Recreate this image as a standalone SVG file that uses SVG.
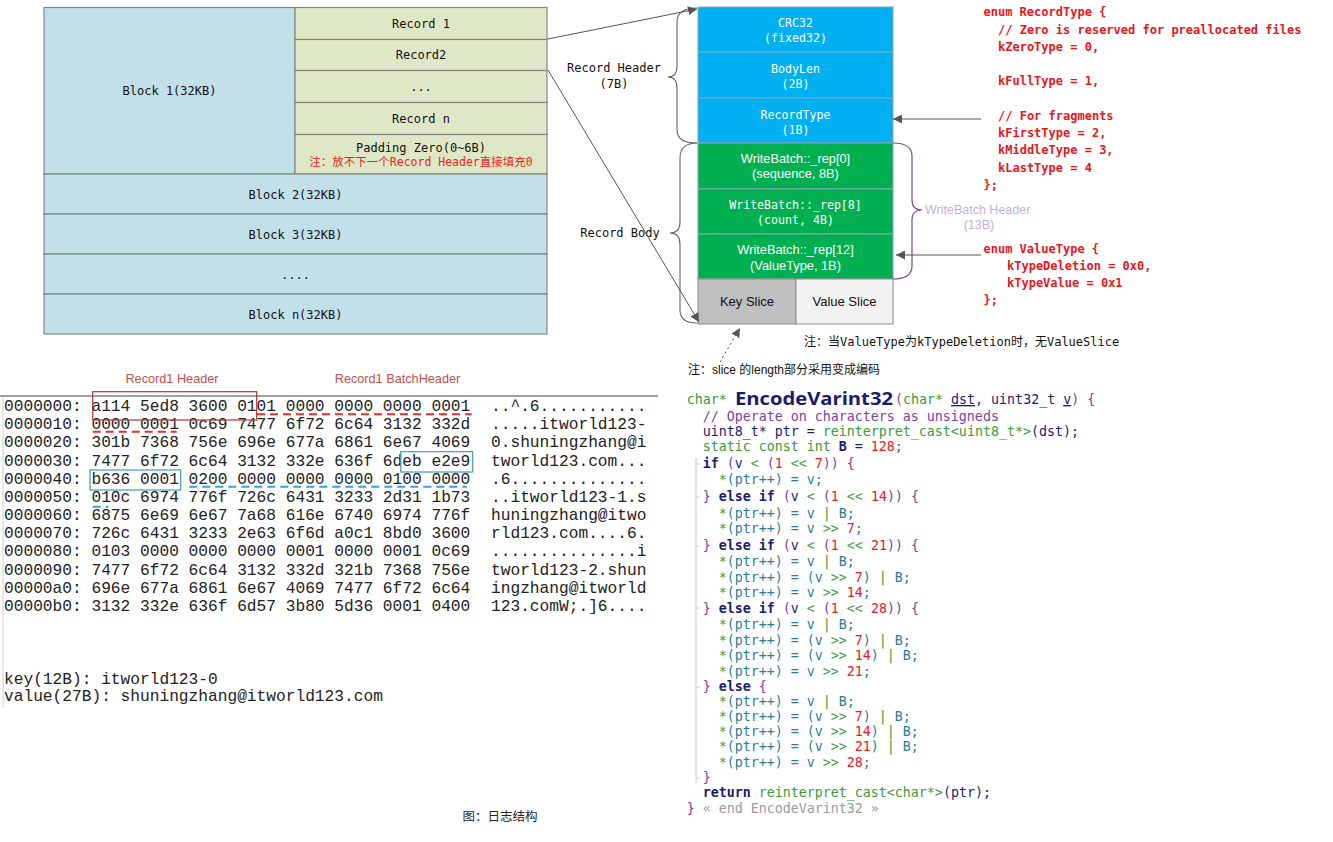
<svg xmlns="http://www.w3.org/2000/svg" width="1333" height="842" viewBox="0 0 1333 842">
<defs>
<marker id="ah" viewBox="0 0 10 10" refX="10" refY="5" markerWidth="9" markerHeight="9" markerUnits="userSpaceOnUse" orient="auto"><path d="M0,0 L10,5 L0,10 z" fill="#555"/></marker>
</defs>
<style>
.mono{font-family:"DejaVu Sans Mono","Liberation Mono","Noto Sans CJK SC",monospace;}
.sans{font-family:"Liberation Sans",Arial,"Noto Sans CJK SC",sans-serif;}
.cour{font-family:"Liberation Mono","Courier New",monospace;font-size:16.2px;fill:#222;}
.blk{fill:#C1E0E9;stroke:#858585;stroke-width:1.2;}
.rec{fill:#DFE8C6;stroke:#858585;stroke-width:1.2;}
.bt{font-size:12px;fill:#111;text-anchor:middle;}
.cb{fill:#00B0F0;stroke:#8AA6B8;stroke-width:1;}
.cg{fill:#00B050;stroke:#8AA6B8;stroke-width:1;}
.ct{fill:#fff;text-anchor:middle;}
.enum{font-family:"DejaVu Sans Mono","Liberation Mono",monospace;font-size:12px;font-weight:bold;fill:#E8151B;}
.brace{fill:none;stroke:#666;stroke-width:1.1;}
.conn{fill:none;stroke:#555;stroke-width:1;}
.code{font-family:"DejaVu Sans Mono","Liberation Mono",monospace;font-size:13.3px;}
.g{fill:#3A9B3A;}
.n{fill:#1C1C6E;}
.b{font-weight:bold;}
.p{fill:#8A3A9A;}
.r{fill:#E3201E;}
.c{fill:#2C7D92;}
.cm{fill:#7F3FA0;}
.gr{fill:#9A9A9A;}
</style>
<rect width="1333" height="842" fill="#fff"/>

<g id="block-table" class="mono">
  <g id="block1"><rect x="44" y="7.5" width="251" height="166.5" class="blk"/><text x="169.5" y="95" class="bt">Block 1(32KB)</text></g>
  <g id="record1"><rect x="295" y="7.5" width="252" height="32" class="rec"/><text x="421" y="28" class="bt">Record 1</text></g>
  <g id="record2"><rect x="295" y="39.5" width="252" height="31" class="rec"/><text x="421" y="59" class="bt">Record2</text></g>
  <g id="record-dots"><rect x="295" y="70.5" width="252" height="32" class="rec"/><text x="421" y="91" class="bt">...</text></g>
  <g id="recordn"><rect x="295" y="102.5" width="252" height="32" class="rec"/><text x="421" y="123" class="bt">Record n</text></g>
  <g id="padding"><rect x="295" y="134.5" width="252" height="39.5" class="rec"/><text x="421" y="152" class="bt">Padding Zero(0~6B)</text><text x="421" y="166" style="font-size:11.5px;fill:#F02020;text-anchor:middle">注：放不下一个Record Header直接填充0</text></g>
  <g id="block2"><rect x="44" y="174" width="503" height="40" class="blk"/><text x="295.5" y="199" class="bt">Block 2(32KB)</text></g>
  <g id="block3"><rect x="44" y="214" width="503" height="40" class="blk"/><text x="295.5" y="239" class="bt">Block 3(32KB)</text></g>
  <g id="block-dots"><rect x="44" y="254" width="503" height="40" class="blk"/><text x="295.5" y="279" class="bt">....</text></g>
  <g id="blockn"><rect x="44" y="294" width="503" height="40" class="blk"/><text x="295.5" y="319" class="bt">Block n(32KB)</text></g>
</g>

<g id="record-structure">
  <g id="crc32"><rect x="698" y="7" width="195" height="45" class="cb"/><text x="795.5" y="27" class="ct mono" style="font-size:11.6px">CRC32</text><text x="795.5" y="42" class="ct mono" style="font-size:11.6px">(fixed32)</text></g>
  <g id="bodylen"><rect x="698" y="52" width="195" height="46" class="cb"/><text x="795.5" y="72.5" class="ct mono" style="font-size:11.6px">BodyLen</text><text x="795.5" y="87.5" class="ct mono" style="font-size:11.6px">(2B)</text></g>
  <g id="recordtype"><rect x="698" y="98" width="195" height="45" class="cb"/><text x="795.5" y="118.5" class="ct mono" style="font-size:11.6px">RecordType</text><text x="795.5" y="133.5" class="ct mono" style="font-size:11.6px">(1B)</text></g>
  <g id="rep0"><rect x="698" y="143" width="195" height="46" class="cg"/><text x="795.5" y="163" class="ct sans" style="font-size:12.8px">WriteBatch::_rep[0]</text><text x="795.5" y="178" class="ct sans" style="font-size:12.8px">(sequence, 8B)</text></g>
  <g id="rep8"><rect x="698" y="189" width="195" height="45" class="cg"/><text x="795.5" y="208.5" class="ct mono" style="font-size:11.6px">WriteBatch::_rep[8]</text><text x="795.5" y="223.5" class="ct mono" style="font-size:11.6px">(count, 4B)</text></g>
  <g id="rep12"><rect x="698" y="234" width="195" height="45" class="cg"/><text x="795.5" y="254" class="ct sans" style="font-size:12.8px">WriteBatch::_rep[12]</text><text x="795.5" y="269.5" class="ct sans" style="font-size:12.8px">(ValueType, 1B)</text></g>
  <g id="keyslice"><rect x="698" y="279" width="98" height="45" fill="#BFBFBF" stroke="#8C8C8C"/><text x="747" y="306" class="sans" style="font-size:13px;fill:#111;text-anchor:middle">Key Slice</text></g>
  <g id="valueslice"><rect x="796" y="279" width="97" height="45" fill="#F2F2F2" stroke="#8C8C8C"/><text x="844.5" y="306" class="sans" style="font-size:13px;fill:#111;text-anchor:middle">Value Slice</text></g>
</g>

<g id="braces">
  <g id="record-header-brace"><path class="brace" d="M697,8 Q677,8 677,22 L677,66 Q677,77 668,77 Q677,77 677,88 L677,130 Q677,143 697,143"/>
    <text x="614" y="72" class="mono" style="font-size:12px;fill:#111;text-anchor:middle">Record Header</text><text x="614" y="88" class="mono" style="font-size:12px;fill:#111;text-anchor:middle">(7B)</text></g>
  <g id="record-body-brace"><path class="brace" d="M697,143 Q680,143 680,158 L680,222 Q680,233 670,233 Q680,233 680,244 L680,310 Q680,323 697,323"/>
    <text x="620" y="237" class="mono" style="font-size:12px;fill:#111;text-anchor:middle">Record Body</text></g>
  <g id="writebatch-header-brace"><path d="M893,143 Q912,143 912,156 L912,200 Q912,210 922,210 Q912,210 912,220 L912,266 Q912,279 893,279" fill="none" stroke="#7A4A98" stroke-width="1.2"/>
    <text x="925" y="214" class="sans" style="font-size:12.5px;fill:#BDB3D4">WriteBatch Header</text><text x="979" y="229" class="sans" style="font-size:12.5px;fill:#BDB3D4;text-anchor:middle">(13B)</text></g>
</g>

<g id="connectors">
  <line class="conn" x1="548" y1="39" x2="697" y2="9" marker-end="url(#ah)"/>
  <line class="conn" x1="548" y1="70" x2="699" y2="322" marker-end="url(#ah)"/>
  <line class="conn" x1="981" y1="119" x2="893" y2="119" marker-end="url(#ah)"/>
  <line class="conn" x1="981" y1="255" x2="896" y2="255" marker-end="url(#ah)"/>
  <line class="conn" x1="720" y1="362" x2="740" y2="328" stroke-dasharray="2,3" marker-end="url(#ah)"/>
</g>

<g id="enum-recordtype" class="enum" xml:space="preserve">
  <text x="983.5" y="16">enum RecordType {</text>
  <text x="998" y="33.5">// Zero is reserved for preallocated files</text>
  <text x="998" y="51">kZeroType = 0,</text>
  <text x="998" y="85">kFullType = 1,</text>
  <text x="998" y="119.5">// For fragments</text>
  <text x="998" y="136.5">kFirstType = 2,</text>
  <text x="998" y="154">kMiddleType = 3,</text>
  <text x="998" y="171.5">kLastType = 4</text>
  <text x="983.5" y="188.5">};</text>
</g>
<g id="enum-valuetype" class="enum">
  <text x="983.5" y="252.5">enum ValueType {</text>
  <text x="1007" y="270">kTypeDeletion = 0x0,</text>
  <text x="1007" y="286.5">kTypeValue = 0x1</text>
  <text x="983.5" y="304">};</text>
</g>

<g id="notes">
  <text x="804" y="346" class="mono" style="font-size:12px;fill:#111">注：当ValueType为kTypeDeletion时，无ValueSlice</text>
  <text x="688" y="374" class="sans" style="font-size:12px;fill:#111">注：slice 的length部分采用变成编码</text>
</g>

<g id="hexdump">
  <line x1="0" y1="396" x2="658" y2="396" stroke="#A0A0A0" stroke-width="2"/>
  <line x1="3" y1="397" x2="3" y2="708" stroke="#D0D0D0" stroke-width="1"/>
  <text x="172" y="382.5" class="sans" style="font-size:12.7px;fill:#C0504D;text-anchor:middle">Record1 Header</text>
  <text x="397.5" y="382.5" class="sans" style="font-size:12.7px;fill:#C0504D;text-anchor:middle">Record1 BatchHeader</text>
  <g class="cour" xml:space="preserve">
  <text x="4" y="411">0000000: a114 5ed8 3600 0101 0000 0000 0000 0001</text>
  <text x="4" y="429.2">0000010: 0000 0001 0c69 7477 6f72 6c64 3132 332d</text>
  <text x="4" y="447.4">0000020: 301b 7368 756e 696e 677a 6861 6e67 4069</text>
  <text x="4" y="465.5">0000030: 7477 6f72 6c64 3132 332e 636f 6deb e2e9</text>
  <text x="4" y="483.7">0000040: b636 0001 0200 0000 0000 0000 0100 0000</text>
  <text x="4" y="501.9">0000050: 010c 6974 776f 726c 6431 3233 2d31 1b73</text>
  <text x="4" y="520.1">0000060: 6875 6e69 6e67 7a68 616e 6740 6974 776f</text>
  <text x="4" y="538.3">0000070: 726c 6431 3233 2e63 6f6d a0c1 8bd0 3600</text>
  <text x="4" y="556.4">0000080: 0103 0000 0000 0000 0001 0000 0001 0c69</text>
  <text x="4" y="574.6">0000090: 7477 6f72 6c64 3132 332d 321b 7368 756e</text>
  <text x="4" y="592.8">00000a0: 696e 677a 6861 6e67 4069 7477 6f72 6c64</text>
  <text x="4" y="611">00000b0: 3132 332e 636f 6d57 3b80 5d36 0001 0400</text>
  <text x="491" y="411">..^.6...........</text>
  <text x="491" y="429.2">.....itworld123-</text>
  <text x="491" y="447.4">0.shuningzhang@i</text>
  <text x="491" y="465.5">tworld123.com...</text>
  <text x="491" y="483.7">.6..............</text>
  <text x="491" y="501.9">..itworld123-1.s</text>
  <text x="491" y="520.1">huningzhang@itwo</text>
  <text x="491" y="538.3">rld123.com....6.</text>
  <text x="491" y="556.4">...............i</text>
  <text x="491" y="574.6">tworld123-2.shun</text>
  <text x="491" y="592.8">ingzhang@itworld</text>
  <text x="491" y="611">123.comW;.]6....</text>
  <text x="4" y="683.5">key(12B): itworld123-0</text>
  <text x="4" y="701">value(27B): shuningzhang@itworld123.com</text>
  </g>
  <rect x="92.7" y="391.7" width="164" height="28.3" fill="none" stroke="#C0302B" stroke-width="1.2"/>
  <line x1="257" y1="414.3" x2="471.7" y2="414.3" stroke="#E03030" stroke-width="2" stroke-dasharray="8,5"/>
  <line x1="92.7" y1="431.7" x2="176.7" y2="431.7" stroke="#E03030" stroke-width="2" stroke-dasharray="8,5"/>
  <rect x="400.7" y="451.7" width="72" height="20.3" fill="none" stroke="#3A9EBE" stroke-width="1.2"/>
  <rect x="90" y="470" width="90.7" height="20" fill="none" stroke="#3A9EBE" stroke-width="1.2"/>
  <line x1="189.3" y1="486.7" x2="466.7" y2="486.7" stroke="#30A2D8" stroke-width="2" stroke-dasharray="8,5"/>
  <line x1="92.7" y1="506.7" x2="108.3" y2="506.7" stroke="#30A2D8" stroke-width="2" stroke-dasharray="8,5"/>
</g>

<g id="code" class="code" xml:space="preserve">
  <path d="M696,458 L696,783 M696,464 L700,464 M696,497 L700,497 M696,546 L700,546 M696,608 L700,608 M696,687 L700,687 M696,778 L700,778" stroke="#CCCCCC" fill="none"/>
  <text x="686.7" y="404"><tspan class="g">char*</tspan></text>
  <text x="735" y="405" textLength="158" lengthAdjust="spacingAndGlyphs" style="font-family:'Open Sans','Liberation Sans',sans-serif;font-size:18px;font-weight:bold;fill:#1C1C6E">EncodeVarint32</text>
  <text x="895" y="404"><tspan class="p">(</tspan><tspan class="g">char*</tspan> <tspan class="n" text-decoration="underline">dst</tspan><tspan class="n">, uint32_t </tspan><tspan class="n" text-decoration="underline">v</tspan><tspan class="p">) {</tspan></text>
  <text x="702.7" y="420.5" class="cm">// Operate on characters as unsigneds</text>
  <text x="702.7" y="436"><tspan class="n">uint8_t* ptr = </tspan><tspan class="g">reinterpret_cast&lt;uint8_t*&gt;</tspan><tspan class="n">(dst);</tspan></text>
  <text x="702.7" y="451"><tspan class="g">static const int</tspan><tspan class="n b"> B</tspan><tspan class="n"> = </tspan><tspan class="r">128</tspan><tspan class="p">;</tspan></text>
  <text x="702.7" y="468"><tspan class="n b">if</tspan><tspan class="p"> (</tspan><tspan class="n">v</tspan><tspan class="g"> &lt; </tspan><tspan class="p">(</tspan><tspan class="r">1</tspan><tspan class="g"> &lt;&lt; </tspan><tspan class="r">7</tspan><tspan class="p">)) {</tspan></text>
  <text x="718.7" y="484"><tspan class="g">*</tspan><tspan class="c">(ptr++) = v;</tspan></text>
  <text x="702.7" y="501"><tspan class="p">}</tspan><tspan class="n b"> else if</tspan><tspan class="p"> (</tspan><tspan class="n">v</tspan><tspan class="g"> &lt; </tspan><tspan class="p">(</tspan><tspan class="r">1</tspan><tspan class="g"> &lt;&lt; </tspan><tspan class="r">14</tspan><tspan class="p">)) {</tspan></text>
  <text x="718.7" y="518"><tspan class="g">*</tspan><tspan class="c">(ptr++) = v </tspan><tspan class="g">|</tspan><tspan class="c"> B;</tspan></text>
  <text x="718.7" y="533"><tspan class="g">*</tspan><tspan class="c">(ptr++) = v </tspan><tspan class="g">&gt;&gt; </tspan><tspan class="r">7</tspan><tspan class="c">;</tspan></text>
  <text x="702.7" y="550"><tspan class="p">}</tspan><tspan class="n b"> else if</tspan><tspan class="p"> (</tspan><tspan class="n">v</tspan><tspan class="g"> &lt; </tspan><tspan class="p">(</tspan><tspan class="r">1</tspan><tspan class="g"> &lt;&lt; </tspan><tspan class="r">21</tspan><tspan class="p">)) {</tspan></text>
  <text x="718.7" y="566"><tspan class="g">*</tspan><tspan class="c">(ptr++) = v </tspan><tspan class="g">|</tspan><tspan class="c"> B;</tspan></text>
  <text x="718.7" y="582"><tspan class="g">*</tspan><tspan class="c">(ptr++) = (v </tspan><tspan class="g">&gt;&gt; </tspan><tspan class="r">7</tspan><tspan class="c">) </tspan><tspan class="g">|</tspan><tspan class="c"> B;</tspan></text>
  <text x="718.7" y="597"><tspan class="g">*</tspan><tspan class="c">(ptr++) = v </tspan><tspan class="g">&gt;&gt; </tspan><tspan class="r">14</tspan><tspan class="c">;</tspan></text>
  <text x="702.7" y="613"><tspan class="p">}</tspan><tspan class="n b"> else if</tspan><tspan class="p"> (</tspan><tspan class="n">v</tspan><tspan class="g"> &lt; </tspan><tspan class="p">(</tspan><tspan class="r">1</tspan><tspan class="g"> &lt;&lt; </tspan><tspan class="r">28</tspan><tspan class="p">)) {</tspan></text>
  <text x="718.7" y="629"><tspan class="g">*</tspan><tspan class="c">(ptr++) = v </tspan><tspan class="g">|</tspan><tspan class="c"> B;</tspan></text>
  <text x="718.7" y="644.5"><tspan class="g">*</tspan><tspan class="c">(ptr++) = (v </tspan><tspan class="g">&gt;&gt; </tspan><tspan class="r">7</tspan><tspan class="c">) </tspan><tspan class="g">|</tspan><tspan class="c"> B;</tspan></text>
  <text x="718.7" y="660"><tspan class="g">*</tspan><tspan class="c">(ptr++) = (v </tspan><tspan class="g">&gt;&gt; </tspan><tspan class="r">14</tspan><tspan class="c">) </tspan><tspan class="g">|</tspan><tspan class="c"> B;</tspan></text>
  <text x="718.7" y="675.5"><tspan class="g">*</tspan><tspan class="c">(ptr++) = v </tspan><tspan class="g">&gt;&gt; </tspan><tspan class="r">21</tspan><tspan class="c">;</tspan></text>
  <text x="702.7" y="691"><tspan class="p">}</tspan><tspan class="n b"> else</tspan><tspan class="p"> {</tspan></text>
  <text x="718.7" y="706"><tspan class="g">*</tspan><tspan class="c">(ptr++) = v </tspan><tspan class="g">|</tspan><tspan class="c"> B;</tspan></text>
  <text x="718.7" y="721"><tspan class="g">*</tspan><tspan class="c">(ptr++) = (v </tspan><tspan class="g">&gt;&gt; </tspan><tspan class="r">7</tspan><tspan class="c">) </tspan><tspan class="g">|</tspan><tspan class="c"> B;</tspan></text>
  <text x="718.7" y="736"><tspan class="g">*</tspan><tspan class="c">(ptr++) = (v </tspan><tspan class="g">&gt;&gt; </tspan><tspan class="r">14</tspan><tspan class="c">) </tspan><tspan class="g">|</tspan><tspan class="c"> B;</tspan></text>
  <text x="718.7" y="751"><tspan class="g">*</tspan><tspan class="c">(ptr++) = (v </tspan><tspan class="g">&gt;&gt; </tspan><tspan class="r">21</tspan><tspan class="c">) </tspan><tspan class="g">|</tspan><tspan class="c"> B;</tspan></text>
  <text x="718.7" y="767"><tspan class="g">*</tspan><tspan class="c">(ptr++) = v </tspan><tspan class="g">&gt;&gt; </tspan><tspan class="r">28</tspan><tspan class="c">;</tspan></text>
  <text x="702.7" y="782"><tspan class="p">}</tspan></text>
  <text x="702.7" y="797"><tspan class="n b">return</tspan><tspan class="g"> reinterpret_cast&lt;char*&gt;</tspan><tspan class="n">(ptr);</tspan></text>
  <text x="686.7" y="813"><tspan class="p">}</tspan><tspan class="gr"> « end EncodeVarint32 »</tspan></text>
</g>

<g id="caption"><text x="500" y="821" class="sans" style="font-size:12.5px;fill:#222;text-anchor:middle">图：日志结构</text></g>
</svg>
